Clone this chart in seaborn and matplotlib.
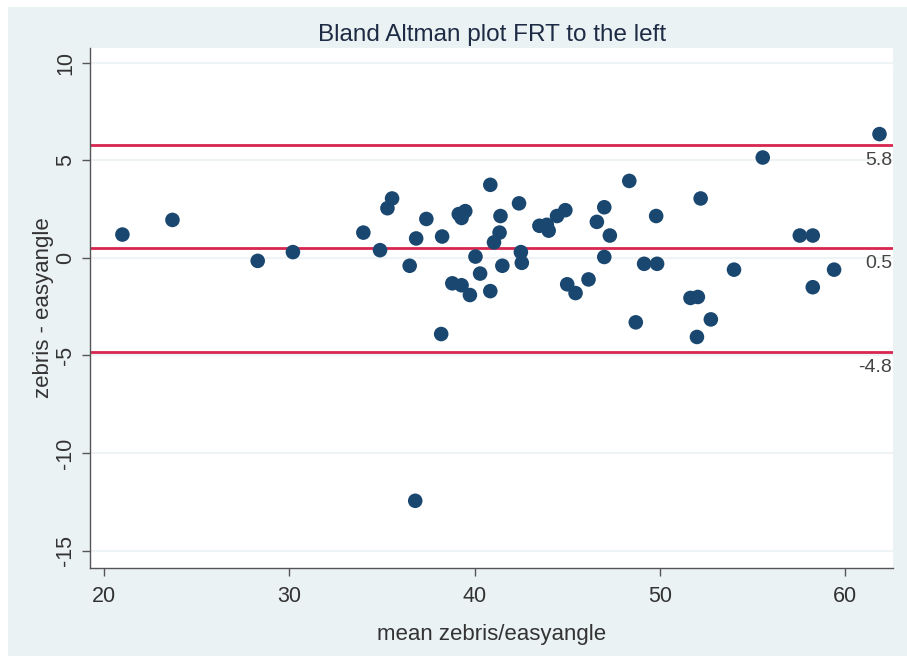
import numpy as np
import pandas as pd
import matplotlib
matplotlib.use('Agg')
import matplotlib.pyplot as plt
import matplotlib.patches as mpatches
import seaborn as sns

## ============================================================= ##

mean_vals = [21.0, 23.7, 28.3, 30.2, 34.0, 34.9, 35.3, 35.55, 36.5, 36.85,
	36.8, 37.4, 38.25, 38.2, 38.8, 39.15, 39.3, 39.5, 39.3, 39.75,
	40.05, 40.3, 40.85, 40.85, 41.05, 41.35, 41.4, 41.5, 42.4, 42.5,
	42.55, 43.5, 43.9, 44.0, 44.45, 44.9, 45.0, 45.45, 46.15, 46.6,
	47.0, 47.3, 47.0, 48.35, 48.7, 49.15, 49.85, 49.8, 51.65, 52.05,
	52.2, 52.0, 52.75, 54.0, 55.55, 57.55, 58.25, 58.25, 59.4, 61.85]
diff_vals = [1.2, 1.95, -0.15, 0.3, 1.3, 0.4, 2.55, 3.05, -0.4, 1.0,
	-12.45, 2.0, 1.1, -3.9, -1.3, 2.25, 2.05, 2.4, -1.4, -1.9,
	0.07, -0.8, 3.75, -1.7, 0.8, 1.3, 2.15, -0.4, 2.8, 0.3,
	-0.25, 1.65, 1.7, 1.4, 2.15, 2.45, -1.35, -1.8, -1.1, 1.85,
	2.6, 1.15, 0.05, 3.95, -3.3, -0.3, -0.3, 2.15, -2.05, -2.0,
	3.05, -4.05, -3.15, -0.6, 5.15, 1.15, 1.15, -1.5, -0.6, 6.35]

limit_vals = [5.8, 0.5, -4.8]
limit_labels = ['5.8', '0.5', '-4.8']

x_ticks = [20, 30, 40, 50, 60]
y_ticks = [-15, -10, -5, 0, 5, 10]

## ============================================================= ##

df = pd.DataFrame({'mean': mean_vals, 'diff': diff_vals})

sns.set_style('white')
plt.rcParams['font.family'] = ['Liberation Sans', 'DejaVu Sans']

bg = '#EAF2F3'
grid = '#EEF4F5'
navy = '#1A476F'
red = '#D7264F'
txt = '#333333'

fig = plt.figure(figsize=(9.07, 6.56), dpi=100, facecolor='white')
fig.patches.append(mpatches.Rectangle((8 / 907., 0), 1, 1 - 7 / 656., transform=fig.transFigure,
	facecolor=bg, edgecolor='none', zorder=-10))
ax = fig.add_axes([0.099, 0.134, 0.886, 0.793])
ax.set_zorder(5)
ax.set_facecolor('white')

for t in y_ticks:
	ax.axhline(t, color=grid, lw=1.5, zorder=1)

for val, lab in zip(limit_vals, limit_labels):
	ax.axhline(val, color=red, lw=2, zorder=2)
	ax.annotate(lab, xy=(1, val), xycoords=('axes fraction', 'data'), xytext=(-1, -5),
		textcoords='offset points', ha='right', va='top', fontsize=14, color='#444444')

sns.scatterplot(data=df, x='mean', y='diff', ax=ax, color=navy, s=110, edgecolor='none', zorder=3)

ax.set_xlim(19.24, 62.6)
ax.set_ylim(-15.9, 10.77)
ax.set_xticks(x_ticks)
ax.set_yticks(y_ticks)
ax.set_xticklabels([str(t) for t in x_ticks], fontsize=15.5, color=txt)
ax.set_yticklabels([str(t) for t in y_ticks], fontsize=15.5, color=txt, rotation=90, va='center')
ax.tick_params(axis='both', direction='out', length=6, width=1, color='#555555', bottom=True, left=True)
ax.tick_params(axis='x', pad=7)
ax.tick_params(axis='y', pad=4)

sns.despine(ax=ax, top=True, right=True)
for s in ['left', 'bottom']:
	ax.spines[s].set_color('#555555')
	ax.spines[s].set_linewidth(1)

ax.set_xlabel('mean zebris/easyangle', fontsize=16, color=txt, labelpad=12)
ax.set_ylabel('zebris - easyangle', fontsize=16, color=txt, labelpad=1)
ax.set_title('Bland Altman plot FRT to the left', fontsize=17.5, color='#1E2B45', pad=5)

fig.savefig('out.png', dpi=100, facecolor=fig.get_facecolor())
